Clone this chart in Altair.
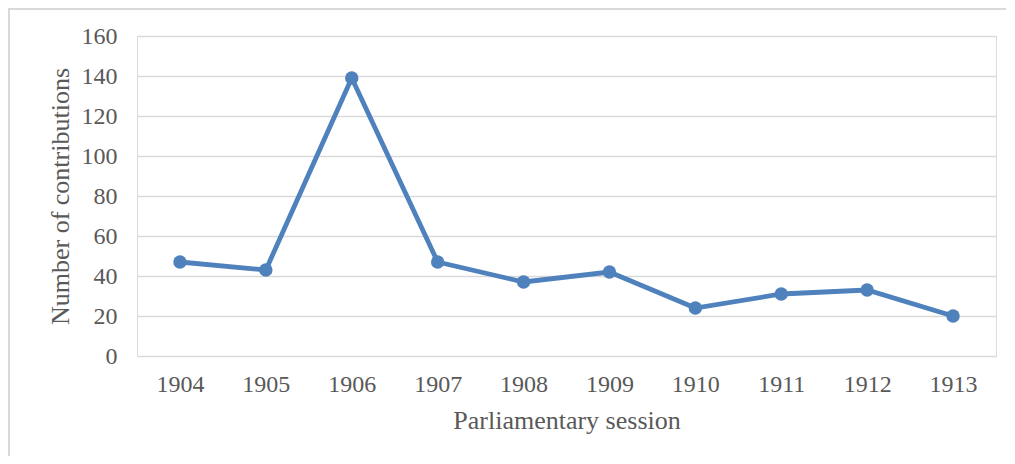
import altair as alt
import pandas as pd

sessions = ["1904", "1905", "1906", "1907", "1908", "1909", "1910", "1911", "1912", "1913"]
contributions = [47, 43, 139, 47, 37, 42, 24, 31, 33, 20]

df = pd.DataFrame({"session": sessions, "count": contributions})

FONT = "Liberation Serif"
TXT = "#595959"
BLUE = "#4f81bd"

base = alt.Chart(df).encode(
    x=alt.X("session:N", sort=sessions,
            scale=alt.Scale(paddingInner=0, paddingOuter=0),
            axis=alt.Axis(title="Parliamentary session", labelAngle=0, domain=False,
                          ticks=False, grid=False, labelPadding=16, titlePadding=11,
                          labelFontSize=24, titleFontSize=26, labelFont=FONT, titleFont=FONT,
                          labelColor=TXT, titleColor=TXT, titleFontWeight="normal")),
    y=alt.Y("count:Q", scale=alt.Scale(domain=[0, 160], nice=False),
            axis=alt.Axis(title="Number of contributions", values=list(range(0, 161, 20)),
                          domain=False, ticks=False, grid=True, gridColor="#d9d9d9",
                          gridWidth=1.3, labelPadding=20, titlePadding=8,
                          labelFontSize=24, titleFontSize=26, labelFont=FONT, titleFont=FONT,
                          labelColor=TXT, titleColor=TXT, titleFontWeight="normal")),
)

line = base.mark_line(color=BLUE, strokeWidth=4.8)
pts = base.mark_point(color=BLUE, filled=True, opacity=1, size=180)

frame_top = alt.Chart(df).mark_rule(color="#d9d9d9", strokeWidth=2).encode(
    x=alt.value(-129), x2=alt.value(880), y=alt.value(-27), y2=alt.value(-27))
frame_left = alt.Chart(df).mark_rule(color="#d9d9d9", strokeWidth=2).encode(
    x=alt.value(-128), x2=alt.value(-128), y=alt.value(-28), y2=alt.value(430))

chart = alt.layer(frame_top, frame_left, line, pts).properties(
    width=859, height=320,
    autosize=alt.AutoSizeParams(type="none"),
    padding={"left": 129, "top": 28, "right": 10, "bottom": 100},
).configure_view(stroke=None).configure(background="white")

chart.save("out.html", embed_options={"renderer": "svg", "actions": False})
